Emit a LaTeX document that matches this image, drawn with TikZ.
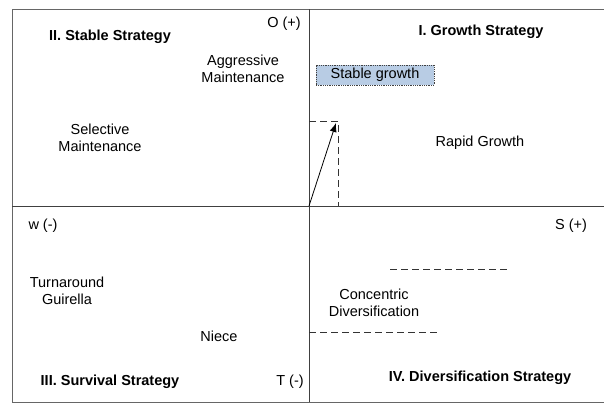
\documentclass[tikz,border=0pt]{standalone}
\usepackage{fontspec}
\setmainfont{Liberation Sans}
\usepackage{xcolor}
\usetikzlibrary{arrows.meta}
\definecolor{boxblue}{RGB}{184,204,228}
\begin{document}
\begin{tikzpicture}[x=1pt,y=-1pt,font=\fontsize{14.5}{16.5}\selectfont]
    \tikzstyle{H}=[font=\fontsize{14.5}{16.5}\selectfont\bfseries]
    \tikzstyle{T}=[align=center,inner sep=0pt]
    \tikzstyle{Q}=[thick,dash pattern=on 7pt off 4pt,black!80]
    \useasboundingbox (0,0) rectangle (604,408);

    % Frame and axes
    \draw [thick,black!60] (604,9) -- (12,9) -- (12,402) -- (604,402);
    \coordinate (O) at (309,206);
    \coordinate (top) at (309,9);
    \coordinate (bottom) at (309,402);
    \coordinate (left) at (12,206);
    \coordinate (right) at (604,206);
    \draw [thick,black!75] (top) -- (bottom);
    \draw [thick,black!75] (left) -- (right);

    % Quadrant I
    \node [H,T] (growth) at (481,32) {I. Growth Strategy};
    \node [T,draw=black!75,densely dotted,thick,fill=boxblue,minimum width=118,minimum height=20] (stable) at (375,75) {Stable growth};
    \node [T] (rapid) at (480,143) {Rapid Growth};
    \coordinate (qa) at (309,121);
    \coordinate (qb) at (338,121);
    \coordinate (qc) at (338,206);
    \draw [Q] (qa) -- (qb) -- (qc);
    \coordinate (P) at (336,123);
    \draw [thick,-{Latex[length=9pt,width=7pt]}] (O) -- (P);

    % Quadrant II
    \node [H,T] (stab) at (110,37) {II. Stable Strategy};
    \node [T] (opp) at (284,24) {O (+)};
    \node [T] (aggr) at (243,69) {Aggressive\\Maintenance};
    \node [T] (sel) at (100,138) {Selective\\Maintenance};

    % Quadrant III
    \node [T] (weak) at (43,226) {w (-)};
    \node [T] (turn) at (67,291) {Turnaround\\Guirella};
    \node [T] (niece) at (219,336) {Niece};
    \node [H,T] (surv) at (110,382) {III. Survival Strategy};
    \node [T] (threat) at (290,382) {T (-)};

    % Quadrant IV
    \node [T] (str) at (571,226) {S (+)};
    \coordinate (da) at (390,269);
    \coordinate (db) at (507,269);
    \draw [Q] (da) -- (db);
    \node [T] (conc) at (374,303) {Concentric\\Diversification};
    \coordinate (dc) at (309,332);
    \coordinate (dd) at (439,332);
    \draw [Q] (dc) -- (dd);
    \node [H,T] (div) at (480,378) {IV. Diversification Strategy};
\end{tikzpicture}
\end{document}
